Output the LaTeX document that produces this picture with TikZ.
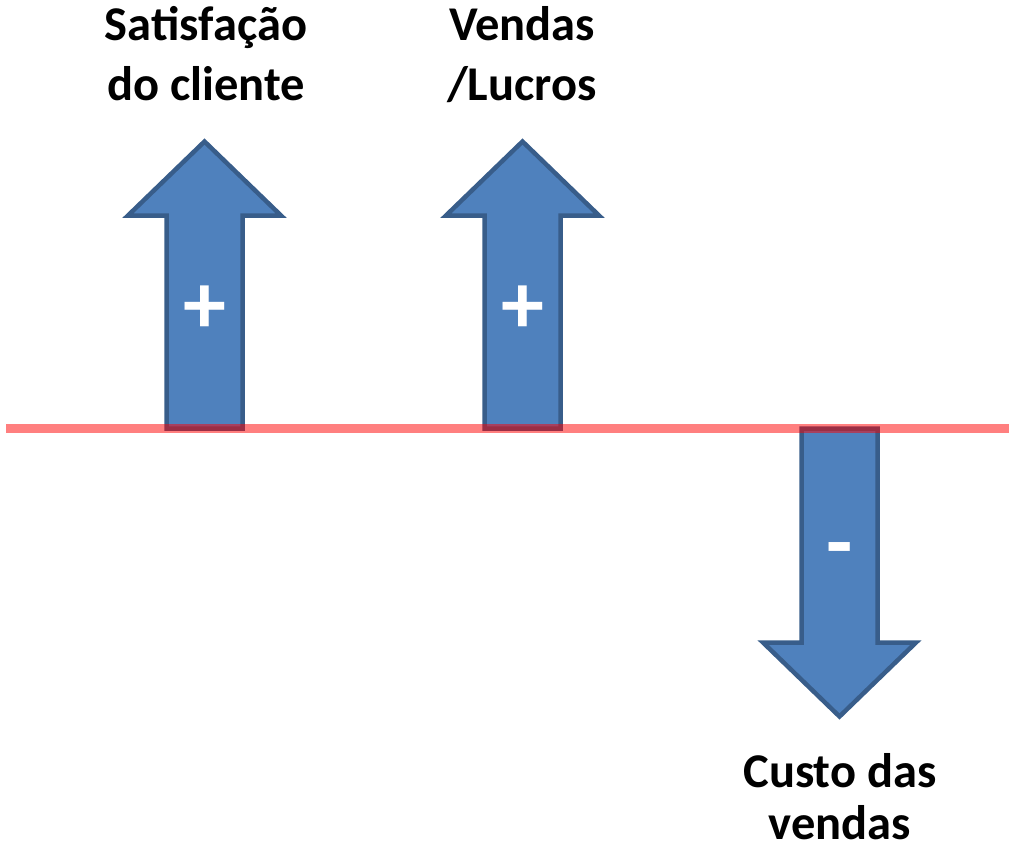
\documentclass[tikz,border=0pt]{standalone}
\usepackage{fontspec}
\setmainfont{Carlito}
\begin{document}
\begin{tikzpicture}[x=1pt,y=-1pt,
  bigarrow/.style={fill={rgb,255:red,79;green,129;blue,189},draw={rgb,255:red,56;green,93;blue,138},line width=4.5pt,line join=miter},
  label/.style={font=\fontsize{48.5}{57}\selectfont\bfseries,align=center,inner sep=0pt,anchor=base},
  sign/.style={font=\fontsize{86}{86}\selectfont\bfseries,text=white,inner sep=0pt},
  axis/.style={draw=red,opacity=0.5,line width=9pt}
]
\useasboundingbox (0,0) rectangle (1009,847);
% up arrow 1
\path[bigarrow] (166.5,428.5) -- (166.5,215.5) -- (128,215.5) -- (204.5,141.5) -- (281,215.5) -- (242.5,215.5) -- (242.5,428.5) -- cycle;
% up arrow 2
\path[bigarrow] (484.5,428.5) -- (484.5,215.5) -- (446,215.5) -- (522.5,141.5) -- (599,215.5) -- (560.5,215.5) -- (560.5,428.5) -- cycle;
% down arrow
\path[bigarrow] (801.5,428.5) -- (801.5,642.5) -- (763,642.5) -- (839.5,716.5) -- (916,642.5) -- (877.5,642.5) -- (877.5,428.5) -- cycle;
% axis line
\coordinate (axL) at (6,428.5);
\coordinate (axR) at (1009,428.5);
\draw[axis] (axL) -- (axR);
% signs
\node[sign] (p1) at (204.5,310) {+};
\node[sign] (p2) at (522.5,310) {+};
\node[sign] (m3) at (839.5,557) {-};
% labels
\node[label] (t1a) at (206,40) {Satisfação};
\node[label] (t1b) at (206,100) {do cliente};
\node[label] (t2a) at (522,40) {Vendas};
\node[label] (t2b) at (522,100) {/Lucros};
\node[label] (t3a) at (840,787) {Custo das};
\node[label,text depth=0pt] (t3b) at (840,839) {vendas};
\end{tikzpicture}
\end{document}
